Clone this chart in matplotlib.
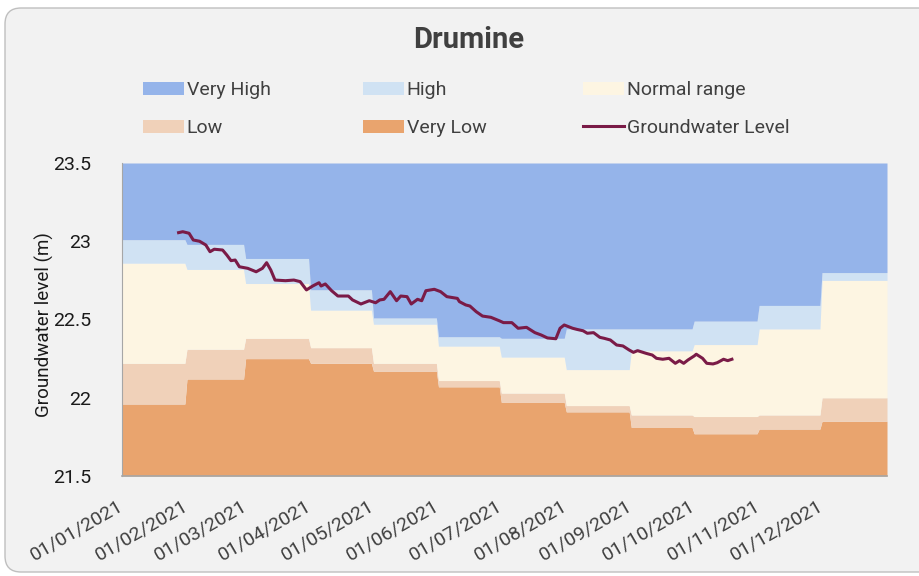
import numpy as np
import pandas as pd
import matplotlib
matplotlib.use("Agg")
import matplotlib.pyplot as plt
import matplotlib.dates as mdates
from matplotlib.patches import Patch, FancyBboxPatch
from matplotlib.lines import Line2D
from matplotlib.transforms import IdentityTransform, ScaledTranslation

plt.rcParams['font.family'] = ['Roboto', 'DejaVu Sans']

# --- monthly threshold bands (top of each band, Jan..Dec 2021) ---
months = ["2021-01", "2021-02", "2021-03", "2021-04", "2021-05", "2021-06",
          "2021-07", "2021-08", "2021-09", "2021-10", "2021-11", "2021-12"]
very_low_top = [21.96, 22.12, 22.25, 22.22, 22.17, 22.07, 21.97, 21.91, 21.81, 21.77, 21.80, 21.85]
low_top = [22.22, 22.31, 22.38, 22.32, 22.22, 22.11, 22.03, 21.95, 21.89, 21.88, 21.89, 22.00]
normal_top = [22.86, 22.82, 22.73, 22.56, 22.47, 22.33, 22.26, 22.18, 22.30, 22.34, 22.44, 22.75]
high_top = [23.01, 22.98, 22.89, 22.69, 22.51, 22.39, 22.38, 22.44, 22.44, 22.49, 22.59, 22.80]

# --- groundwater level readings ---
gw_dates = ["2021-01-28", "2021-01-30", "2021-02-02", "2021-02-04", "2021-02-07", "2021-02-10",
            "2021-02-12", "2021-02-14", "2021-02-18", "2021-02-20", "2021-02-22", "2021-02-24",
            "2021-02-26", "2021-03-02", "2021-03-06", "2021-03-09", "2021-03-11", "2021-03-13",
            "2021-03-15", "2021-03-20", "2021-03-24", "2021-03-27", "2021-03-30", "2021-04-02",
            "2021-04-05", "2021-04-06", "2021-04-08", "2021-04-11", "2021-04-14", "2021-04-19",
            "2021-04-21", "2021-04-25", "2021-04-29", "2021-05-02", "2021-05-04", "2021-05-06",
            "2021-05-09", "2021-05-12", "2021-05-14", "2021-05-17", "2021-05-19", "2021-05-22",
            "2021-05-24", "2021-05-26", "2021-05-30", "2021-06-02", "2021-06-05", "2021-06-10",
            "2021-06-11", "2021-06-14", "2021-06-16", "2021-06-19", "2021-06-22", "2021-06-26",
            "2021-06-30", "2021-07-02", "2021-07-06", "2021-07-09", "2021-07-13", "2021-07-17",
            "2021-07-20", "2021-07-23", "2021-07-27", "2021-07-29", "2021-07-31", "2021-08-04",
            "2021-08-06", "2021-08-09", "2021-08-11", "2021-08-14", "2021-08-17", "2021-08-19",
            "2021-08-22", "2021-08-25", "2021-08-28", "2021-08-31", "2021-09-02", "2021-09-04",
            "2021-09-08", "2021-09-11", "2021-09-13", "2021-09-16", "2021-09-19", "2021-09-22",
            "2021-09-24", "2021-09-26", "2021-09-28", "2021-10-01", "2021-10-02", "2021-10-05",
            "2021-10-07", "2021-10-10", "2021-10-12", "2021-10-15", "2021-10-17", "2021-10-19"]
gw_level = [23.055, 23.061, 23.051, 23.008, 23.000, 22.976,
            22.933, 22.949, 22.944, 22.912, 22.876, 22.880,
            22.837, 22.827, 22.805, 22.827, 22.863, 22.816,
            22.752, 22.748, 22.752, 22.742, 22.689, 22.714,
            22.735, 22.714, 22.727, 22.684, 22.650, 22.650,
            22.625, 22.599, 22.620, 22.607, 22.625, 22.629,
            22.678, 22.620, 22.650, 22.646, 22.599, 22.629,
            22.620, 22.684, 22.693, 22.678, 22.646, 22.635,
            22.614, 22.593, 22.586, 22.550, 22.522, 22.514,
            22.492, 22.480, 22.480, 22.444, 22.450, 22.416,
            22.401, 22.382, 22.377, 22.444, 22.465, 22.444,
            22.437, 22.428, 22.412, 22.416, 22.386, 22.380,
            22.369, 22.337, 22.331, 22.305, 22.290, 22.301,
            22.284, 22.273, 22.252, 22.246, 22.252, 22.220,
            22.237, 22.220, 22.241, 22.267, 22.278, 22.252,
            22.220, 22.216, 22.224, 22.246, 22.237, 22.246]

y_min, y_max = 21.5, 23.5

# expand monthly bands to daily values
days = pd.date_range("2021-01-01", "2022-01-01", freq="D")
idx = np.where(days.year > 2021, 11, days.month - 1)
vl = np.array(very_low_top)[idx]
lo = np.array(low_top)[idx]
nr = np.array(normal_top)[idx]
hi = np.array(high_top)[idx]

c_vhigh = "#95B4EA"
c_high = "#D0E2F3"
c_norm = "#FDF5E2"
c_low = "#F0D1B9"
c_vlow = "#E9A46E"
c_line = "#7A1B47"

fig = plt.figure(figsize=(9.2, 5.76), dpi=100, facecolor="white")

# rounded chart frame
frame = FancyBboxPatch((5, 4), 930, 564, boxstyle="round,pad=0,rounding_size=16",
                       transform=IdentityTransform(), facecolor="#F2F2F2",
                       edgecolor="#BFBFBF", linewidth=1.0, zorder=-10)
fig.add_artist(frame)

ax = fig.add_axes([122 / 920, 100 / 576, 765 / 920, 313 / 576])
ax.set_facecolor("none")

ax.fill_between(days, y_min, vl, color=c_vlow, lw=0)
ax.fill_between(days, vl, lo, color=c_low, lw=0)
ax.fill_between(days, lo, nr, color=c_norm, lw=0)
ax.fill_between(days, nr, hi, color=c_high, lw=0)
ax.fill_between(days, hi, y_max, color=c_vhigh, lw=0)

ax.plot(pd.to_datetime(gw_dates), gw_level, color=c_line, lw=2.2)

ax.set_xlim(pd.Timestamp("2021-01-01"), pd.Timestamp("2022-01-01"))
ax.set_ylim(y_min, y_max)

ax.set_xticks(pd.to_datetime([m + "-01" for m in months]))
ax.xaxis.set_major_formatter(mdates.DateFormatter("%d/%m/%Y"))
ax.tick_params(axis="x", length=0, pad=15)
shift = ScaledTranslation(-0.05, 0, fig.dpi_scale_trans)
for lab in ax.get_xticklabels():
    lab.set_rotation(30)
    lab.set_ha("right")
    lab.set_va("top")
    lab.set_rotation_mode("anchor")
    lab.set_fontsize(14)
    lab.set_color("#404040")
    lab.set_transform(lab.get_transform() + shift)

ax.set_yticks([21.5, 22, 22.5, 23, 23.5])
ax.yaxis.set_major_formatter(plt.FuncFormatter(lambda v, p: f"{v:g}"))
ax.tick_params(axis="y", length=0, pad=22, labelsize=14, labelcolor="#1a1a1a")

for s in ["top", "right"]:
    ax.spines[s].set_visible(False)
ax.spines["left"].set_color("#A6A6A6")
ax.spines["bottom"].set_color("#A6A6A6")
ax.spines["bottom"].set_linewidth(1.2)

fig.text(44 / 920, 1 - 325 / 576, "Groundwater level (m)", rotation=90,
         ha="center", va="center", fontsize=13.5, color="#1a1a1a")

fig.text(469 / 920, 1 - 40 / 576, "Drumine", ha="center", va="center",
         fontsize=21, fontweight="bold", color="#404040")

# legend, one entry per slot
entries = [
    (Patch(facecolor=c_vhigh), "Very High", 143, 90),
    (Patch(facecolor=c_high), "High", 363, 90),
    (Patch(facecolor=c_norm), "Normal range", 583, 90),
    (Patch(facecolor=c_low), "Low", 143, 128),
    (Patch(facecolor=c_vlow), "Very Low", 363, 128),
    (Line2D([], [], color=c_line, lw=2.2), "Groundwater Level", 583, 128),
]
for handle, label, px, py in entries:
    fig.legend([handle], [label], loc="center left",
               bbox_to_anchor=(px / 920, 1 - py / 576), frameon=False,
               borderpad=0, borderaxespad=0, handlelength=2.1, handleheight=0.65,
               handletextpad=0.15, fontsize=14, labelcolor="#404040")

fig.savefig("out.png", dpi=100, facecolor="white")
